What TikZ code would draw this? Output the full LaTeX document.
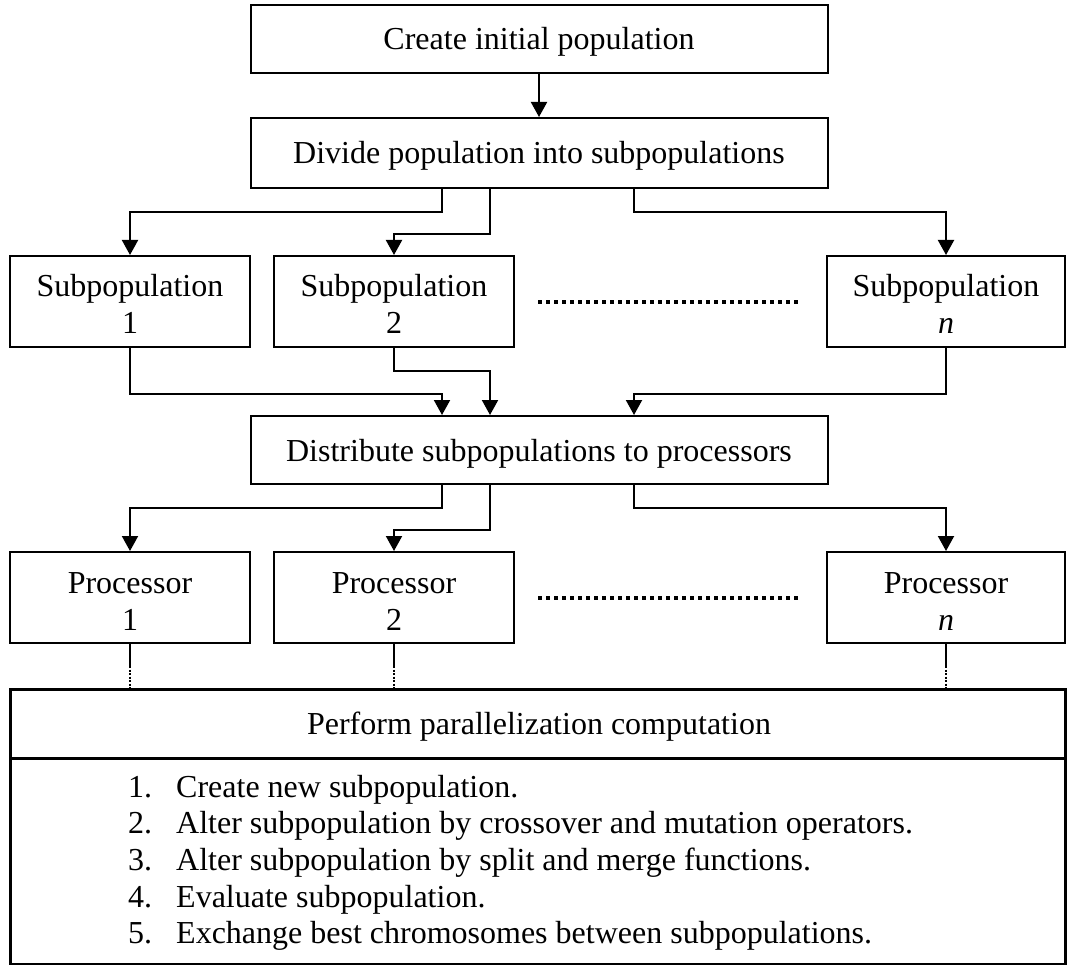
\documentclass[tikz,border=0pt]{standalone}
\usepackage{fontspec}
\setmainfont{Liberation Serif}
\usetikzlibrary{arrows.meta}

\begin{document}
\begin{tikzpicture}[x=1pt, y=-1pt,
  txt/.style={font=\fontsize{32pt}{36.7pt}\selectfont, inner sep=0pt},
  box/.style={draw, line width=2pt, inner sep=0pt, txt, text height=22pt, text depth=0pt},
  wide/.style={box, minimum width=577pt},
  small/.style={draw, line width=2pt, inner sep=0pt, minimum width=240pt, minimum height=91pt},
  lbl/.style={txt, anchor=base},
  arr/.style={line width=2pt, -{Triangle[width=16pt, length=15pt]}},
  link/.style={line width=2pt},
  faint/.style={line width=1.3pt, dash pattern=on 2pt off 1.5pt},
  ellipsis/.style={line width=3.5pt, dash pattern=on 3.5pt off 4.5pt}
]
\useasboundingbox (0,0) rectangle (1067,965);

% main steps
\node[wide, minimum height=68pt] (create) at (539,39) {Create initial population};
\node[wide, minimum height=70pt] (divide) at (539,153) {Divide population into subpopulations};
\node[wide, minimum height=68pt] (distrib) at (539,450) {Distribute subpopulations to processors};

% subpopulations
\node[small] (s1) at (130,301.5) {};
\node[small] (s2) at (394,301.5) {};
\node[small, minimum width=238pt] (sn) at (946,301.5) {};
\node[lbl] (s1a) at (130,297) {Subpopulation};
\node[lbl] (s1b) at (130,334) {1};
\node[lbl] (s2a) at (394,297) {Subpopulation};
\node[lbl] (s2b) at (394,334) {2};
\node[lbl] (sna) at (946,297) {Subpopulation};
\node[lbl] (snb) at (946,334) {\textit{n}};

% processors
\node[small] (p1) at (130,597.5) {};
\node[small] (p2) at (394,597.5) {};
\node[small, minimum width=238pt] (pn) at (946,597.5) {};
\node[lbl] (p1a) at (130,593) {Processor};
\node[lbl] (p1b) at (130,630) {1};
\node[lbl] (p2a) at (394,593) {Processor};
\node[lbl] (p2b) at (394,630) {2};
\node[lbl] (pna) at (946,593) {Processor};
\node[lbl] (pnb) at (946,630) {\textit{n}};

% ellipses between the second and last boxes
\draw[ellipsis] (538,302) -- (798,302);
\draw[ellipsis] (538,598) -- (798,598);

% computation block
\draw[line width=3pt] (10,689) rectangle (1065,964);
\draw[line width=3pt] (10,758) -- (1065,758);
\node[lbl] (perf) at (539,734.5) {Perform parallelization computation};
\coordinate (cp1) at (130,689);
\coordinate (cp2) at (394,689);
\coordinate (cpn) at (946,689);

\begin{scope}[every node/.style={txt, anchor=base west}]
\node (n1) at (128,797)   {1.};  \node (t1) at (176,797)   {Create new subpopulation.};
\node (n2) at (128,833.7) {2.};  \node (t2) at (176,833.7) {Alter subpopulation by crossover and mutation operators.};
\node (n3) at (128,870.4) {3.};  \node (t3) at (176,870.4) {Alter subpopulation by split and merge functions.};
\node (n4) at (128,907.1) {4.};  \node (t4) at (176,907.1) {Evaluate subpopulation.};
\node (n5) at (128,943.8) {5.};  \node (t5) at (176,943.8) {Exchange best chromosomes between subpopulations.};
\end{scope}

% connectors
\draw[arr] (create.south) -- (divide.north);

\draw[arr] ([xshift=-97pt]divide.south) -- ++(0,23) -| (s1.north);
\draw[arr] ([xshift=-49pt]divide.south) -- ++(0,45) -| (s2.north);
\draw[arr] ([xshift=95pt]divide.south) -- ++(0,23) -| (sn.north);

\draw[arr] (s1.south) -- ++(0,46) -| ([xshift=-97pt]distrib.north);
\draw[arr] (s2.south) -- ++(0,23) -| ([xshift=-49pt]distrib.north);
\draw[arr] (sn.south) -- ++(0,46) -| ([xshift=95pt]distrib.north);

\draw[arr] ([xshift=-97pt]distrib.south) -- ++(0,23) -| (p1.north);
\draw[arr] ([xshift=-49pt]distrib.south) -- ++(0,45) -| (p2.north);
\draw[arr] ([xshift=95pt]distrib.south) -- ++(0,23) -| (pn.north);

\foreach \p/\c in {p1/cp1, p2/cp2, pn/cpn} {
  \draw[link] (\p.south) -- ++(0,22);
  \draw[faint] ([yshift=-22pt]\p.south) -- (\c);
}
\end{tikzpicture}
\end{document}
